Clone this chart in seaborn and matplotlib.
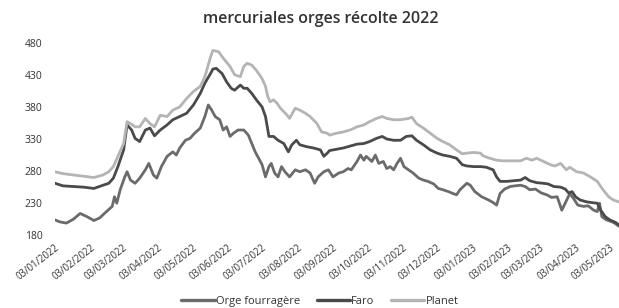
import matplotlib
matplotlib.use("Agg")
import matplotlib.pyplot as plt
import numpy as np
import pandas as pd
import seaborn as sns

# ---- data (days since 03/01/2022, €/t) ----
start = pd.Timestamp("2022-01-03")

orge_days = [0, 4, 10, 16, 22, 28, 34, 39, 45, 50, 52, 54, 57, 61, 63, 66, 70, 74, 79, 82, 86, 89,
             93, 98, 103, 106, 109, 114, 118, 122, 127, 131, 134, 137, 140, 144, 147, 150, 153, 156,
             160, 165, 169, 172, 175, 178, 181, 184, 187, 189, 192, 195, 198, 201, 205, 210, 214,
             219, 223, 227, 230, 235, 239, 243, 248, 252, 256, 259, 264, 267, 270, 272, 277, 280,
             283, 287, 290, 293, 296, 299, 302, 305, 309, 313, 318, 322, 326, 331, 335, 339, 344,
             348, 351, 354, 357, 360, 363, 367, 373, 379, 383, 386, 389, 393, 398, 402, 407, 411,
             415, 420, 425, 430, 434, 439, 443, 446, 450, 453, 457, 462, 466, 471, 474, 476, 478,
             482, 487, 490, 493]
orge = [204, 201, 199, 205, 214, 209, 203, 207, 217, 225, 240, 230, 251, 271, 279, 266, 261, 269,
        282, 292, 274, 269, 287, 303, 310, 305, 316, 328, 331, 339, 347, 365, 383, 375, 365, 360,
        344, 349, 334, 339, 344, 344, 336, 323, 310, 300, 290, 271, 287, 292, 277, 271, 287, 279,
        271, 282, 279, 282, 277, 261, 271, 279, 282, 271, 277, 279, 284, 282, 295, 305, 297, 303,
        295, 305, 292, 295, 284, 287, 282, 292, 300, 287, 282, 277, 269, 266, 264, 260, 253, 251,
        248, 245, 243, 251, 256, 261, 258, 248, 240, 235, 231, 227, 245, 252, 256, 257, 258, 256,
        251, 252, 246, 243, 239, 240, 219, 230, 245, 238, 227, 225, 226, 219, 217, 230, 209, 204,
        201, 198, 194]

faro_days = [0, 7, 16, 25, 34, 42, 47, 51, 55, 60, 63, 67, 70, 74, 79, 83, 87, 92, 98, 103, 109, 115,
             121, 127, 131, 136, 138, 141, 146, 150, 154, 157, 162, 165, 168, 172, 176, 181, 184,
             187, 191, 195, 200, 204, 207, 211, 214, 220, 226, 232, 235, 238, 240, 246, 252, 258,
             264, 270, 275, 281, 286, 290, 296, 302, 307, 312, 316, 322, 328, 334, 339, 345, 351,
             356, 360, 366, 372, 377, 383, 386, 389, 395, 401, 407, 411, 415, 421, 427, 431, 436,
             442, 446, 449, 452, 455, 459, 465, 469, 474, 477, 481, 485, 490, 493]
faro = [261, 257, 256, 255, 253, 258, 261, 269, 287, 313, 352, 344, 331, 326, 344, 347, 335, 344,
        352, 360, 365, 370, 383, 401, 417, 432, 439, 440, 432, 419, 409, 406, 414, 409, 409, 401,
        391, 380, 365, 334, 334, 328, 323, 310, 321, 328, 321, 318, 316, 313, 303, 308, 312, 314,
        316, 319, 322, 323, 326, 331, 334, 330, 328, 328, 334, 335, 328, 321, 313, 308, 305, 303,
        300, 290, 288, 287, 287, 286, 282, 271, 264, 264, 265, 266, 270, 265, 262, 261, 260, 256,
        255, 252, 246, 248, 240, 235, 232, 231, 230, 219, 209, 204, 200, 196]

planet_days = [0, 7, 16, 25, 34, 42, 47, 51, 55, 60, 63, 66, 70, 74, 79, 83, 87, 92, 98, 103, 109,
               115, 121, 127, 131, 136, 138, 143, 147, 153, 157, 162, 165, 168, 172, 176, 181, 184,
               186, 188, 191, 194, 197, 203, 205, 210, 214, 219, 223, 229, 233, 238, 240, 246, 252,
               258, 264, 270, 275, 281, 286, 290, 296, 302, 309, 312, 316, 322, 328, 334, 339, 345,
               351, 356, 360, 366, 372, 374, 380, 386, 391, 398, 407, 412, 417, 421, 427, 433, 437,
               442, 447, 450, 456, 462, 468, 474, 479, 484, 488, 493]
planet = [279, 276, 274, 272, 270, 274, 279, 287, 303, 323, 357, 354, 349, 349, 362, 354, 349, 367,
          365, 375, 380, 393, 404, 412, 427, 458, 468, 466, 456, 443, 430, 427, 443, 448, 445, 437,
          424, 412, 396, 388, 391, 386, 378, 367, 362, 378, 375, 370, 365, 354, 341, 339, 336, 339,
          341, 344, 349, 352, 357, 362, 365, 362, 360, 360, 362, 364, 354, 347, 339, 331, 326, 321,
          313, 307, 308, 309, 308, 304, 300, 297, 296, 296, 296, 300, 297, 300, 295, 290, 288, 292,
          282, 286, 279, 277, 271, 264, 251, 240, 235, 232]

series_names = ["Orge fourragère", "Faro", "Planet"]
series_colors = ["#6b6b6b", "#4a4a4a", "#b4b4b4"]
y_ticks = [180, 230, 280, 330, 380, 430, 480]
x_tick_dates = pd.date_range("2022-01-01", "2023-05-01", freq="MS") + pd.Timedelta(days=2)
title = "mercuriales orges récolte 2022"

frames = []
for name, days, vals in zip(series_names, [orge_days, faro_days, planet_days], [orge, faro, planet]):
    frames.append(pd.DataFrame({"date": start + pd.to_timedelta(days, unit="D"),
                                "value": vals, "series": name}))
df = pd.concat(frames, ignore_index=True)

sns.set_theme(style="white")
plt.rcParams["font.family"] = ["Open Sans", "DejaVu Sans"]

fig = plt.figure(figsize=(6.19, 3.08), dpi=100)
ax = fig.add_axes([55 / 619, (308 - 235.3) / 308, 564 / 619, (235.3 - 42.7) / 308])

sns.lineplot(data=df, x="date", y="value", hue="series", hue_order=series_names,
             palette=dict(zip(series_names, series_colors)), linewidth=2.0,
             estimator=None, sort=False, ax=ax)

ax.set_xlim(start, start + pd.Timedelta(days=493))
ax.set_ylim(180, 480)
ax.set_yticks(y_ticks)
ax.set_yticklabels([str(v) for v in y_ticks], fontsize=7.5, color="#333333")
ax.set_xticks(list(x_tick_dates))
ax.set_xticklabels([d.strftime("%d/%m/%Y") for d in x_tick_dates], rotation=38,
                   ha="right", rotation_mode="anchor", fontsize=6.9, color="#333333")
ax.tick_params(axis="y", length=0, pad=9)
ax.tick_params(axis="x", length=0, pad=5)
ax.set_xlabel("")
ax.set_ylabel("")
for s in ax.spines.values():
    s.set_visible(False)
ax.grid(False)

handles, labels = ax.get_legend_handles_labels()
for h in handles:
    h.set_linewidth(2.4)
ax.get_legend().remove()
fig.legend(handles, labels, loc="center", bbox_to_anchor=(320 / 619, (308 - 301.7) / 308),
           ncol=3, frameon=False, fontsize=8, handlelength=3.0, handletextpad=0.1,
           columnspacing=1.5, labelcolor="#333333")

fig.text(321 / 619, (308 - 19) / 308, title, ha="center", va="center",
         fontsize=11.5, fontweight="semibold", color="#333333")

fig.savefig("out.png", dpi=100)
